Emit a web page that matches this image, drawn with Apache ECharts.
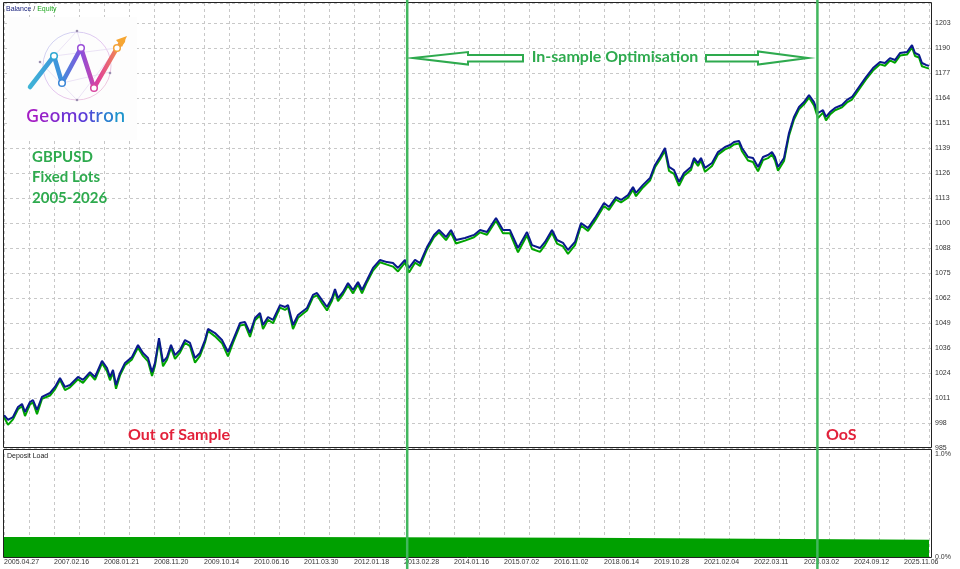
<!DOCTYPE html>
<html><head><meta charset="utf-8">
<script src="https://cdn.jsdelivr.net/npm/echarts@6/dist/echarts.min.js"></script>
<style>html,body{margin:0;padding:0;background:#fff}#c{width:960px;height:569px}</style>
</head><body><div id="c"></div>
<script>
// ---- data (deal number on x, account value on y) ----
const dealNo = [
 0,20,45,70,90,105,130,145,165,190,
 230,255,280,305,330,370,395,430,455,490,
 515,530,545,560,580,605,640,670,695,720,
 740,755,775,795,815,835,855,880,905,930,
 955,980,1005,1020,1055,1090,1120,1145,1180,1205,
 1230,1255,1280,1295,1320,1345,1380,1405,1420,1445,
 1470,1515,1545,1565,1590,1615,1640,1655,1670,1695,
 1720,1745,1770,1790,1815,1845,1880,1915,1945,1970,
 2005,2025,2055,2080,2115,2150,2175,2210,2235,2260,
 2305,2350,2380,2415,2460,2495,2530,2570,2615,2640,
 2680,2705,2740,2765,2795,2820,2855,2885,2920,2955,
 3000,3025,3060,3085,3120,3145,3160,3195,3230,3255,
 3280,3305,3325,3350,3375,3400,3435,3450,3470,3485,
 3505,3540,3570,3605,3630,3650,3675,3690,3720,3745,
 3770,3795,3820,3840,3855,3870,3900,3925,3950,3975,
 4000,4025,4050,4070,4095,4110,4130,4155,4190,4215,
 4240,4275,4310,4345,4380,4405,4430,4455,4480,4515,
 4540,4555,4575,4590,4610,4625
];
const balance = [
 1002.0,999.5,1001.0,1006.1,1007.7,1003.6,1008.7,1009.7,1004.6,1011.3,
 1013.3,1016.4,1021.0,1016.4,1017.4,1021.5,1020.0,1024.0,1021.5,1029.7,
 1026.1,1021.5,1025.1,1017.4,1023.5,1028.7,1031.7,1037.9,1033.8,1031.2,
 1024.0,1028.7,1041.4,1029.2,1031.7,1037.9,1032.7,1035.3,1040.4,1038.9,
 1031.2,1033.8,1040.4,1046.1,1044.0,1040.4,1034.3,1040.4,1049.1,1049.6,
 1044.0,1051.7,1054.2,1048.1,1052.2,1050.7,1058.3,1057.3,1058.3,1048.1,
 1053.2,1056.8,1063.5,1064.5,1060.9,1057.3,1061.9,1066.5,1061.9,1065.0,
 1069.6,1066.0,1070.1,1066.0,1071.1,1077.3,1081.4,1080.3,1079.8,1077.3,
 1081.4,1077.3,1081.4,1079.8,1088.0,1094.2,1096.7,1093.1,1096.7,1091.6,
 1092.6,1094.2,1096.7,1095.7,1102.9,1096.7,1096.7,1087.5,1095.7,1089.0,
 1087.5,1090.6,1096.7,1091.6,1090.1,1086.5,1090.6,1100.3,1097.7,1102.9,
 1110.5,1108.5,1113.6,1112.1,1114.6,1118.7,1115.7,1119.8,1123.3,1130.0,
 1134.1,1138.7,1129.0,1127.4,1121.3,1125.9,1129.0,1133.6,1131.0,1133.6,
 1128.5,1131.0,1136.6,1139.2,1140.2,1141.8,1142.3,1138.7,1134.1,1133.6,
 1129.0,1134.1,1135.1,1136.6,1134.1,1129.0,1133.6,1146.4,1154.6,1159.7,
 1162.2,1165.8,1162.2,1156.6,1158.1,1154.6,1157.1,1159.2,1160.7,1163.3,
 1164.8,1169.9,1175.0,1179.6,1182.7,1182.2,1184.7,1183.7,1187.3,1187.8,
 1191.4,1187.3,1186.3,1182.2,1181.2,1180.7
];
const equity = [
 1001.0,997.0,999.8,1005.0,1006.5,1001.5,1007.5,1008.5,1002.5,1010.3,
 1012.0,1015.2,1020.0,1014.8,1016.2,1020.3,1018.5,1023.0,1020.0,1028.5,
 1024.5,1019.8,1023.8,1015.5,1022.3,1027.5,1030.5,1036.5,1032.3,1029.5,
 1022.0,1027.3,1040.0,1027.0,1030.3,1036.5,1030.8,1034.0,1039.0,1037.3,
 1028.8,1032.3,1039.2,1045.0,1042.3,1038.8,1032.0,1039.0,1047.8,1048.3,
 1042.0,1050.5,1053.0,1046.0,1050.8,1049.0,1057.0,1055.8,1057.0,1046.0,
 1051.8,1055.5,1062.3,1063.3,1059.3,1055.5,1060.5,1065.2,1060.3,1063.8,
 1068.3,1064.3,1068.8,1064.3,1070.0,1076.0,1080.2,1079.0,1078.0,1075.5,
 1080.0,1075.0,1080.0,1078.3,1086.8,1093.0,1095.5,1091.5,1095.3,1089.8,
 1091.3,1093.0,1095.5,1094.3,1101.5,1095.0,1095.0,1085.3,1094.0,1087.0,
 1085.5,1089.0,1095.3,1089.8,1088.3,1084.5,1089.0,1099.0,1096.2,1101.5,
 1109.0,1107.0,1112.3,1110.8,1113.3,1117.3,1114.0,1118.5,1122.0,1128.8,
 1132.8,1137.3,1127.0,1125.5,1119.3,1124.5,1127.5,1132.3,1129.5,1132.3,
 1126.5,1129.5,1135.3,1138.0,1139.0,1140.5,1141.0,1137.0,1132.3,1131.5,
 1126.8,1132.5,1133.5,1135.3,1132.3,1127.0,1132.0,1145.0,1153.3,1158.5,
 1161.0,1164.5,1160.5,1154.0,1156.8,1152.8,1155.8,1158.0,1159.5,1162.0,
 1163.5,1168.7,1173.8,1178.3,1181.5,1180.8,1183.5,1182.3,1186.0,1186.5,
 1190.2,1185.8,1185.0,1180.5,1179.8,1179.3
];
const dateLabels = ['2005.04.27','2007.02.16','2008.01.21','2008.11.20','2009.10.14','2010.06.16',
 '2011.03.30','2012.01.18','2013.02.28','2014.01.16','2015.07.02','2016.11.02','2018.06.14',
 '2019.10.28','2021.02.04','2022.03.11','2023.03.02','2024.09.12','2025.11.06'];
const loadDeals = [0, 1430, 2900, 3955, 4625];
const loadPct   = [0.194, 0.187, 0.175, 0.168, 0.168];
const splitDeals = [2016, 4067];
const Y_STEP = 12.7942, Y_MIN = 985.15, Y_MAX = 1212.9;
const X_MAX = 4635, X_STEP = 125, X_LABEL_STEP = 250;

const chart = echarts.init(document.getElementById('c'), null, {renderer: 'canvas'});
const LBL = {fontFamily: '"Liberation Sans", Arial, sans-serif', fontSize: 7, color: '#333'};
const GRIDLINE = {show: true, lineStyle: {color: '#c8c8c8', type: [3, 3], width: 1}};

chart.setOption({
  animation: false,
  backgroundColor: '#fff',
  grid: [
    {left: 4, right: 29, top: 3, bottom: 121},
    {left: 4, right: 29, top: 454, bottom: 12}
  ],
  xAxis: [
    {type: 'value', gridIndex: 0, min: 0, max: X_MAX, interval: X_STEP,
     axisLine: {show: false}, axisTick: {show: false}, axisLabel: {show: false}, splitLine: GRIDLINE},
    {type: 'value', gridIndex: 1, min: 0, max: X_MAX, interval: X_STEP,
     axisLine: {show: false}, axisTick: {show: false}, splitLine: GRIDLINE,
     axisLabel: Object.assign({}, LBL, {margin: 2, align: 'left', showMaxLabel: false, hideOverlap: false,
       formatter: v => (Math.round(v) % X_LABEL_STEP === 0) ? (dateLabels[Math.round(v) / X_LABEL_STEP] || '') : ''})}
  ],
  yAxis: [
    {type: 'value', gridIndex: 0, position: 'right', min: Y_MIN, max: Y_MAX, interval: Y_STEP,
     axisLine: {show: false}, axisTick: {show: false}, splitLine: GRIDLINE,
     axisLabel: Object.assign({}, LBL, {margin: 4, showMaxLabel: false, showMinLabel: true, hideOverlap: false,
       formatter: v => String(Math.round(v))})},
    {type: 'value', gridIndex: 1, position: 'right', min: 0, max: 1, interval: 1,
     axisLine: {show: false}, axisTick: {show: false}, splitLine: {show: false},
     axisLabel: Object.assign({}, LBL, {margin: 4, hideOverlap: false, formatter: v => v.toFixed(1) + '%'})}
  ],
  series: [
    {type: 'line', name: 'Equity', xAxisIndex: 0, yAxisIndex: 0, symbol: 'none', z: 2,
     data: dealNo.map((d, i) => [d, equity[i]]), lineStyle: {color: '#00a400', width: 2}},
    {type: 'line', name: 'Balance', xAxisIndex: 0, yAxisIndex: 0, symbol: 'none', z: 3,
     data: dealNo.map((d, i) => [d, balance[i]]), lineStyle: {color: '#0a1a8c', width: 2}},
    {type: 'line', name: 'Deposit Load', xAxisIndex: 1, yAxisIndex: 1, symbol: 'none', step: 'end',
     data: loadDeals.map((d, i) => [d, loadPct[i]]), lineStyle: {width: 0, color: '#00a000'},
     areaStyle: {color: '#00a000', opacity: 1}}
  ]
});

// ---- annotations ----
const G = '#2eaa4e', R = '#e2213a', VL = '#42b75e';
const annoFont = 'bold 16px Lato, "Open Sans", sans-serif';
const annoFontS = 'bold 15px Lato, "Open Sans", sans-serif';
const els = [];
// panel frames
els.push({type: 'rect', shape: {x: 3.5, y: 2.5, width: 928, height: 445}, style: {fill: 'none', stroke: '#222', lineWidth: 1}, z: 50});
els.push({type: 'rect', shape: {x: 3.5, y: 449.5, width: 928, height: 108}, style: {fill: 'none', stroke: '#222', lineWidth: 1}, z: 50});
// legend texts
const f7 = '7px "Liberation Sans", Arial';
els.push({type: 'text', x: 6, y: 9, z: 60, style: {
  text: '{b|Balance}{s| / }{e|Equity}', font: f7, verticalAlign: 'middle',
  rich: {b: {fill: '#1a237e', font: f7}, s: {fill: '#333', font: f7}, e: {fill: '#1fa81f', font: f7}}}});
els.push({type: 'text', x: 7, y: 456, z: 60, style: {text: 'Deposit Load', font: f7, fill: '#222', verticalAlign: 'middle'}});
// logo
els.push({type: 'rect', shape: {x: 9, y: 17, width: 128, height: 123}, style: {fill: '#fdfdfd'}, z: 40});
els.push({type: 'circle', shape: {cx: 77, cy: 66, r: 34}, style: {fill: 'none', lineWidth: 1,
  stroke: new echarts.graphic.LinearGradient(0, 0, 1, 1, [{offset: 0, color: '#c9d8f2'}, {offset: 0.5, color: '#e3c6f0'}, {offset: 1, color: '#f4c9d6'}])}, z: 41});
[[[77,31],[54,56]],[[77,31],[94,88]],[[54,56],[117,48]],[[40,62],[77,100]],[[77,100],[117,48]],[[62,83],[110,72]]].forEach(p => {
  els.push({type: 'line', shape: {x1: p[0][0], y1: p[0][1], x2: p[1][0], y2: p[1][1]}, style: {stroke: '#e6dcf2', lineWidth: 0.8}, z: 41});
});
els.push({type: 'polyline', shape: {points: [[30,87],[54,56],[62,83],[81,48],[94,88],[117,48],[123,41]]}, z: 42,
  style: {fill: 'none', lineWidth: 4.5, lineJoin: 'round', lineCap: 'round',
    stroke: new echarts.graphic.LinearGradient(0, 0, 1, 0, [{offset: 0, color: '#3fb6d6'}, {offset: 0.35, color: '#3f8fdc'}, {offset: 0.55, color: '#8a4fdc'}, {offset: 0.72, color: '#e0409a'}, {offset: 1, color: '#f6a632'}])}});
els.push({type: 'polygon', shape: {points: [[127,36],[116,40],[122,47]]}, style: {fill: '#f6a632'}, z: 43});
[[54,56,'#2fa8d2'],[62,83,'#3a86d6'],[81,48,'#9a4fd8'],[94,88,'#d8459f'],[117,48,'#f2a43a']].forEach(c => {
  els.push({type: 'circle', shape: {cx: c[0], cy: c[1], r: 3.3}, style: {fill: '#fff', stroke: c[2], lineWidth: 1.5}, z: 44});
});
[[77,31],[77,100],[40,62],[110,73]].forEach(c => {
  els.push({type: 'circle', shape: {cx: c[0], cy: c[1], r: 1.3}, style: {fill: '#9a8fb0'}, z: 43});
});
const gf = '500 18px "Noto Sans", sans-serif';
els.push({type: 'text', x: 26, y: 117, z: 45, style: {
  text: '{a|G}{b|e}{c|o}{d|m}{e|o}{f|t}{g|r}{h|o}{i|n}', font: gf, verticalAlign: 'middle',
  rich: {a: {fill: '#a41cc4', font: gf}, b: {fill: '#9522c8', font: gf}, c: {fill: '#8529cd', font: gf},
         d: {fill: '#6e33d4', font: gf}, e: {fill: '#5a3dd8', font: gf}, f: {fill: '#4a52d6', font: gf},
         g: {fill: '#3a68d3', font: gf}, h: {fill: '#2a80d0', font: gf}, i: {fill: '#1d94cc', font: gf}}}});
// left text block
['GBPUSD', 'Fixed Lots', '2005-2026'].forEach((t, i) => {
  els.push({type: 'text', x: 32, y: 157 + i * 20.5, z: 60, style: {text: t, font: annoFontS, fill: G, verticalAlign: 'middle'}});
});
els.push({type: 'text', x: 128, y: 434.5, z: 60, style: {text: 'Out of Sample', font: annoFont, fill: R, verticalAlign: 'middle'}});
els.push({type: 'text', x: 826, y: 434.5, z: 60, style: {text: 'OoS', font: annoFont, fill: R, verticalAlign: 'middle'}});
els.push({type: 'text', x: 615, y: 56.5, z: 60, style: {text: 'In-sample Optimisation', font: annoFont, fill: G, align: 'center', verticalAlign: 'middle'}});
// arrows
els.push({type: 'polygon', z: 60, shape: {points: [[413,58],[468,52],[468,55],[523,55],[523,61.5],[468,61.5],[468,64.5]]},
  style: {fill: '#fff', stroke: G, lineWidth: 2, lineJoin: 'miter'}});
els.push({type: 'polygon', z: 60, shape: {points: [[808,58],[758,51.5],[758,55],[706,55],[706,61.5],[758,61.5],[758,64.5]]},
  style: {fill: '#fff', stroke: G, lineWidth: 2, lineJoin: 'miter'}});
// sample split lines
splitDeals.forEach(d => {
  const px = chart.convertToPixel({xAxisIndex: 0}, d);
  els.push({type: 'line', z: 70, shape: {x1: px, y1: 0, x2: px, y2: 569}, style: {stroke: VL, lineWidth: 2.5}});
});
chart.setOption({graphic: {elements: els}});
</script></body></html>
